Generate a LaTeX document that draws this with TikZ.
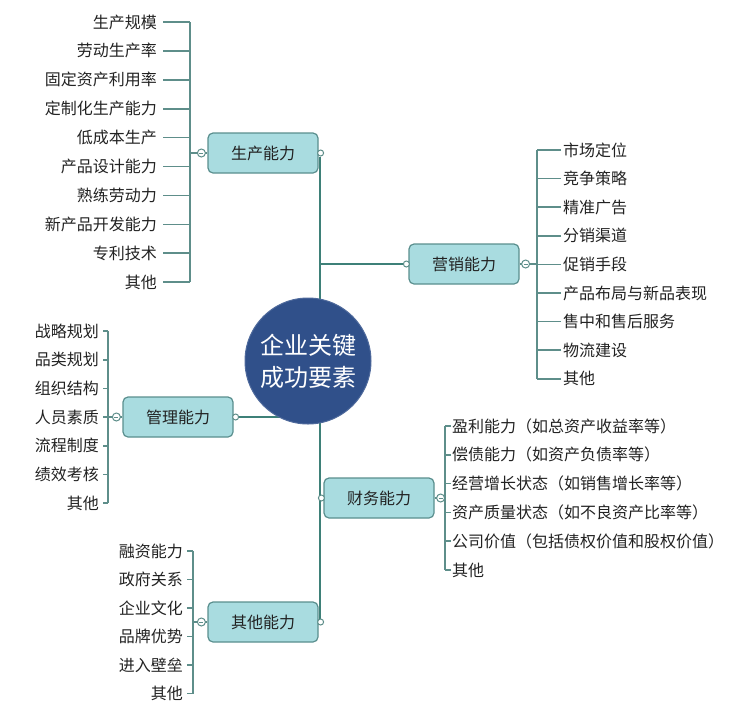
\documentclass[tikz,border=0pt]{standalone}
\usepackage{fontspec}
\setmainfont{Noto Sans CJK SC}
\definecolor{nodef}{HTML}{A9DCE0}
\definecolor{nodeb}{HTML}{5A8F8E}
\definecolor{trunkc}{HTML}{3E8078}
\definecolor{barc}{HTML}{5E8E8A}
\definecolor{hubf}{HTML}{30508A}
\definecolor{txt}{HTML}{222222}
\begin{document}
\begin{tikzpicture}[x=1pt,y=-1pt,
  cat/.style={draw=nodeb, fill=nodef, rounded corners=5pt, minimum width=110pt, minimum height=40pt, line width=1.2pt, font=\fontsize{16}{16}\selectfont, text=txt},
  leafL/.style={anchor=east, inner sep=1pt, font=\fontsize{16}{16}\selectfont, text=txt},
  leafR/.style={anchor=west, inner sep=1pt, font=\fontsize{16}{16}\selectfont, text=txt},
  trunk/.style={draw=trunkc, line width=2.8pt},
  bar/.style={draw=barc, line width=2pt},
  tick/.style={draw=barc, line width=1.6pt},
  knob/.style={circle, draw=barc, fill=white, minimum size=8pt, inner sep=0pt, line width=1pt},
  mknob/.style={knob, path picture={\draw[barc, line width=0.8pt] ([xshift=-2pt]path picture bounding box.center) -- ([xshift=2pt]path picture bounding box.center);}}]
\useasboundingbox (0,0) rectangle (756,713);

% category nodes
\node[cat] (prod) at (263,153) {生产能力};
\node[cat] (mkt) at (464,264) {营销能力};
\node[cat] (mgmt) at (178,417) {管理能力};
\node[cat] (fin) at (379,498) {财务能力};
\node[cat] (oth) at (263,622) {其他能力};

% hub
\coordinate (hubc) at (308,361);
\coordinate (tt) at (320,157);
\coordinate (tb) at (320,622);
\draw[trunk] (tt) -- (tb);
\draw[trunk] (320,264) -- (mkt.west);
\draw[trunk] (mgmt.east) -- (mgmt.east -| hubc);
\draw[trunk] (320,498) -- (fin.west);
\draw[trunk] (tb) -- (oth.east);
\node[circle, fill=hubf, draw=hubf!85!white, line width=1pt, minimum size=126pt, inner sep=0pt, text=white, font=\fontsize{24}{32}\selectfont, align=center] (hub) at (hubc) {企业关键\\成功要素};

% ---- 生产能力 leaves
\coordinate (pbar) at (190,0);
\foreach \t [count=\i] in {生产规模,劳动生产率,固定资产利用率,定制化生产能力,低成本生产,产品设计能力,熟练劳动力,新产品开发能力,专利技术,其他}
  {\node[leafL] (p\i) at (158,{22+28.9*(\i-1)}) {\t};
   \draw[tick] ([xshift=5pt]p\i.east) -- (p\i.east -| pbar);}
\draw[bar] (p1.east -| pbar) -- (p10.east -| pbar);
\draw[tick] (prod.west -| pbar) -- (prod.west);

% ---- 营销能力 leaves
\coordinate (mbar) at (537,0);
\foreach \t [count=\i] in {市场定位,竞争策略,精准广告,分销渠道,促销手段,产品布局与新品表现,售中和售后服务,物流建设,其他}
  {\node[leafR] (m\i) at (562,{150+28.6*(\i-1)}) {\t};
   \draw[tick] ([xshift=-1pt]m\i.west) -- (m\i.west -| mbar);}
\draw[bar] (m1.west -| mbar) -- (m9.west -| mbar);
\draw[tick] (mkt.east) -- (mkt.east -| mbar);

% ---- 管理能力 leaves
\coordinate (gbar) at (108,0);
\foreach \t [count=\i] in {战略规划,品类规划,组织结构,人员素质,流程制度,绩效考核,其他}
  {\node[leafL] (g\i) at (100,{331+28.7*(\i-1)}) {\t};
   \draw[tick] ([xshift=3pt]g\i.east) -- (g\i.east -| gbar);}
\draw[bar] (g1.east -| gbar) -- (g7.east -| gbar);
\draw[tick] (mgmt.west -| gbar) -- (mgmt.west);

% ---- 财务能力 leaves
\coordinate (fbar) at (445,0);
\foreach \t [count=\i] in {盈利能力（如总资产收益率等）,偿债能力（如资产负债率等）,经营增长状态（如销售增长率等）,资产质量状态（如不良资产比率等）,公司价值（包括债权价值和股权价值）,其他}
  {\node[leafR] (f\i) at (451,{426+28.8*(\i-1)}) {\t};
   \draw[tick] ([xshift=0pt]f\i.west) -- (f\i.west -| fbar);}
\draw[bar] (f1.west -| fbar) -- (f6.west -| fbar);
\draw[tick] (fin.east) -- (fin.east -| fbar);

% ---- 其他能力 leaves
\coordinate (obar) at (193,0);
\foreach \t [count=\i] in {融资能力,政府关系,企业文化,品牌优势,进入壁垒,其他}
  {\node[leafL] (o\i) at (184,{551+28.5*(\i-1)}) {\t};
   \draw[tick] ([xshift=3pt]o\i.east) -- (o\i.east -| obar);}
\draw[bar] (o1.east -| obar) -- (o6.east -| obar);
\draw[tick] (oth.west -| obar) -- (oth.west);

% knobs
\node[mknob] at ([xshift=-6pt]prod.west) {};
\node[knob, minimum size=6pt] at ([xshift=2pt]prod.east) {};
\node[mknob] at ([xshift=6pt]mkt.east) {};
\node[knob, minimum size=6pt] at ([xshift=-2pt]mkt.west) {};
\node[mknob] at ([xshift=-6pt]mgmt.west) {};
\node[knob, minimum size=6pt] at ([xshift=2pt]mgmt.east) {};
\node[mknob] at ([xshift=6pt]fin.east) {};
\node[knob, minimum size=6pt] at ([xshift=-2pt]fin.west) {};
\node[mknob] at ([xshift=-6pt]oth.west) {};
\node[knob, minimum size=6pt] at ([xshift=2pt]oth.east) {};
\end{tikzpicture}
\end{document}
